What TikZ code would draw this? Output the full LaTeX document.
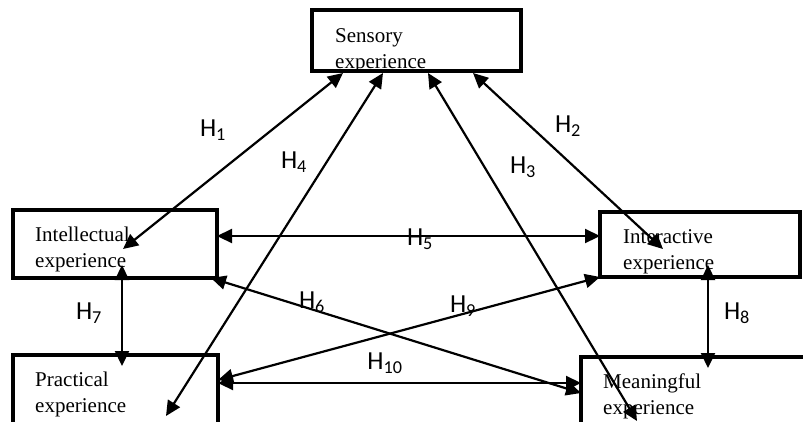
\documentclass[tikz,border=0pt]{standalone}
\usepackage{fontspec}
\setmainfont{Liberation Serif}
\newfontfamily\hypfont{Carlito}
\usetikzlibrary{arrows.meta}

\tikzset{
    box/.style={draw=black, fill=white, line width=3.5pt, inner sep=0pt, outer sep=0pt},
    boxtext/.style={anchor=north west, align=left, inner sep=0pt, font=\fontsize{21}{26}\selectfont},
    link/.style={line width=2.2pt, {Triangle[length=15pt,width=14pt]}-{Triangle[length=15pt,width=14pt]}},
    hyp/.style={font=\hypfont\fontsize{26}{28}\selectfont, inner sep=0pt}
}

\begin{document}
\begin{tikzpicture}[x=1pt,y=-1pt]
    \useasboundingbox (0,0) rectangle (803,421);
    \clip (0,0) rectangle (803,421);
    % the five experience boxes
    \node[box, minimum width=209pt, minimum height=61pt] (sens)  at (416.5,40.5) {};
    \node[box, minimum width=204pt, minimum height=68pt] (intel) at (115,244) {};
    \node[box, minimum width=200pt, minimum height=65pt] (inter) at (700,244.5) {};
    \node[box, minimum width=205pt, minimum height=90pt] (prac)  at (115.5,400) {};
    \node[box, minimum width=239pt, minimum height=90pt] (mean)  at (700.5,402) {};
    \node[boxtext] (senst)  at (335,28)  {Sensory\\experience};
    \node[boxtext] (intelt) at (35,227)  {Intellectual\\experience};
    \node[boxtext] (intert) at (623,229) {Interactive\\experience};
    \node[boxtext] (pract)  at (35,372)  {Practical\\experience};
    \node[boxtext] (meant)  at (603,374) {Meaningful\\experience};
    %borders again, over the text
    \foreach \b in {sens,intel,inter,prac,mean}
        \draw[line width=3.5pt] (\b.south west) rectangle (\b.north east);

    % hypotheses
    \draw[link] ([xshift=-73.5pt,yshift=-2pt]sens.south) -- ([xshift=8pt,yshift=-5pt]intel.center);
    \draw[link] ([xshift=56.5pt,yshift=-2pt]sens.south) -- ([xshift=-37pt,yshift=-4.5pt]inter.center);
    \draw[link] ([xshift=11.5pt,yshift=-2pt]sens.south) -- ([xshift=-63.5pt,yshift=-19pt]mean.center);
    \draw[link] ([xshift=-33.5pt,yshift=-2pt]sens.south) -- ([xshift=50.5pt,yshift=-16pt]prac.center);
    \draw[link] ([yshift=8pt]intel.east) -- ([yshift=8.5pt]inter.west);
    \draw[link] ([xshift=-6pt]intel.south east) -- ([yshift=-36pt]mean.north west);
    \draw[link] ([xshift=7pt,yshift=13pt]intel.south) -- ([xshift=6.5pt,yshift=-11pt]prac.north);
    \draw[link] ([xshift=8pt,yshift=12pt]inter.south) -- ([xshift=7.5pt,yshift=-11pt]mean.north);
    \draw[link] ([yshift=-25pt]prac.north east) -- (inter.south west);
    \draw[link] ([yshift=-28pt]prac.north east) -- ([yshift=-26pt]mean.north west);

    \node[hyp] (h1)  at (213,130) {H\textsubscript{1}};
    \node[hyp] (h2)  at (568,126) {H\textsubscript{2}};
    \node[hyp] (h3)  at (523,167) {H\textsubscript{3}};
    \node[hyp] (h4)  at (294,162) {H\textsubscript{4}};
    \node[hyp] (h5)  at (420,239) {H\textsubscript{5}};
    \node[hyp] (h6)  at (312,302) {H\textsubscript{6}};
    \node[hyp] (h7)  at (89,313)  {H\textsubscript{7}};
    \node[hyp] (h8)  at (737,313) {H\textsubscript{8}};
    \node[hyp] (h9)  at (463,306) {H\textsubscript{9}};
    \node[hyp] (h10) at (385,363) {H\textsubscript{10}};
\end{tikzpicture}
\end{document}
